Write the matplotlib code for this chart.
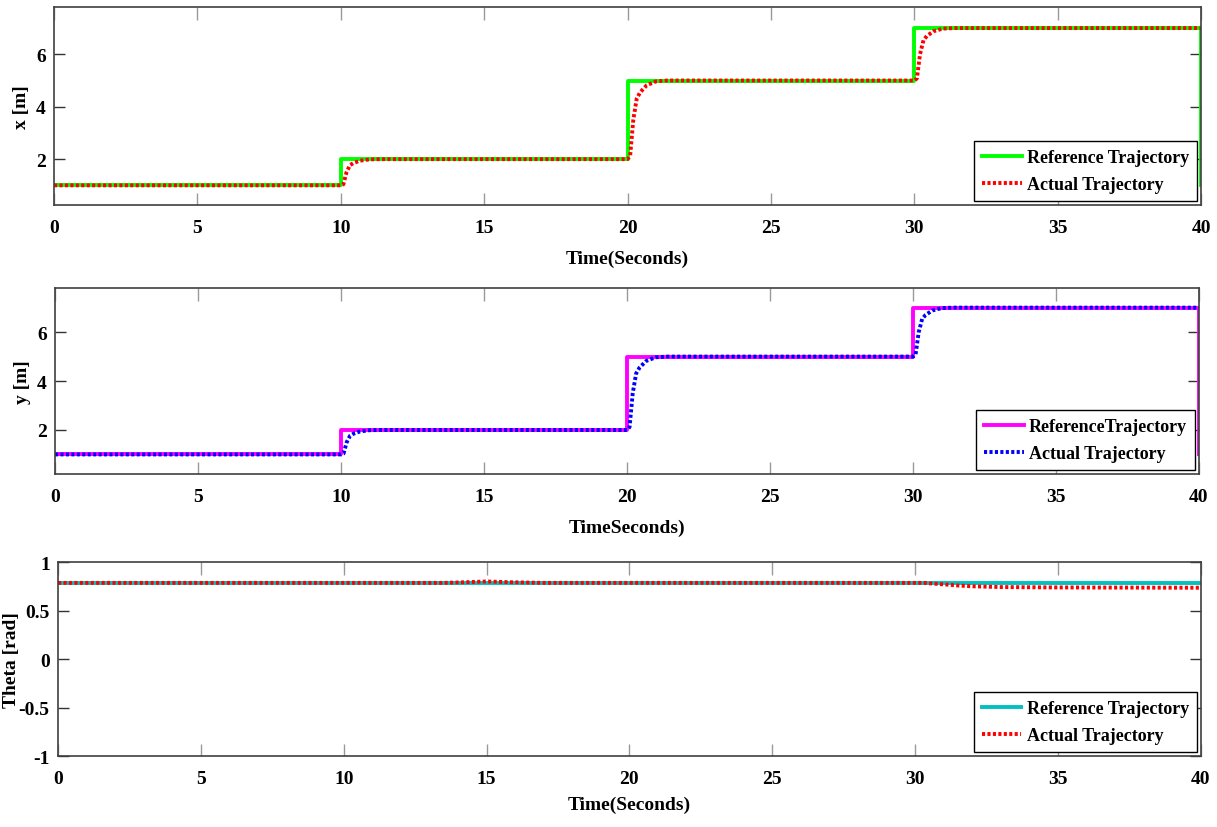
import numpy as np
import matplotlib
matplotlib.use('Agg')
import matplotlib.pyplot as plt

plt.rcParams['font.family'] = ['Liberation Serif', 'DejaVu Serif']
plt.rcParams['font.weight'] = 'bold'

# reference trajectories (piecewise constant, drop back to 1 at the last sample)
t_ref = [0, 10, 10, 20, 20, 30, 30, 40, 40]
x_ref = [1, 1, 2, 2, 5, 5, 7, 7, 1]
y_ref = [1, 1, 2, 2, 5, 5, 7, 7, 1]

# actual trajectories
t_act = [0, 10, 10.09, 10.2, 10.32, 10.44, 10.67, 11.0, 11.4,
         20, 20.09, 20.2, 20.32, 20.44, 20.67, 21.0, 21.4,
         30, 30.09, 30.2, 30.32, 30.44, 30.67, 31.0, 31.4, 40]
x_act = [1, 1, 1.04, 1.5, 1.77, 1.85, 1.94, 1.99, 2.0,
         2.0, 2.12, 3.5, 4.31, 4.55, 4.82, 4.97, 5.0,
         5.0, 5.08, 6.0, 6.54, 6.7, 6.88, 6.98, 7.0, 7.0]
y_act = [1, 1, 1.04, 1.5, 1.77, 1.85, 1.94, 1.99, 2.0,
         2.0, 2.12, 3.5, 4.31, 4.55, 4.82, 4.97, 5.0,
         5.0, 5.08, 6.0, 6.54, 6.7, 6.88, 6.98, 7.0, 7.0]

t_th_ref = [0, 40]
th_ref = [0.785, 0.785]
t_th_act = [0, 13.5, 14.3, 15.0, 15.8, 17.0, 30.3, 31.0, 31.5, 32.0, 33.0, 35.0, 40.0]
th_act = [0.785, 0.785, 0.792, 0.80, 0.792, 0.785, 0.785, 0.77, 0.758, 0.75, 0.742, 0.738, 0.735]

xticks = [0, 5, 10, 15, 20, 25, 30, 35, 40]

fig = plt.figure(figsize=(12.17, 8.28), dpi=100)
ax1 = fig.add_axes([0.0444, 0.7512, 0.9425, 0.239])
ax2 = fig.add_axes([0.0452, 0.4263, 0.940, 0.2246])
ax3 = fig.add_axes([0.0477, 0.0857, 0.939, 0.2343])

fs = 14
dots = (0, (0.8, 0.6))


def style(ax):
    ax.set_xlim(0, 40)
    ax.set_xticks(xticks)
    ax.tick_params(axis='x', direction='in', top=True, length=9, width=1,
                   color='#999999', pad=10, labelsize=fs)
    ax.tick_params(axis='y', direction='in', right=True, length=8, width=1,
                   color='#333333', pad=6, labelsize=fs)
    for s in ax.spines.values():
        s.set_color('#404040')
        s.set_linewidth(1.2)
    for lab in ax.get_xticklabels() + ax.get_yticklabels():
        lab.set_fontweight('bold')


def legend(ax):
    leg = ax.legend(loc='lower right', fontsize=fs - 1, fancybox=False, framealpha=1,
                    edgecolor='black', handlelength=2.2, borderpad=0.45,
                    labelspacing=0.55, handletextpad=0.3, borderaxespad=0.2)
    leg.get_frame().set_linewidth(1.0)
    for txt in leg.get_texts():
        txt.set_fontweight('bold')


# x
ax1.plot(t_ref, x_ref, color='#00ff00', lw=2.8, label='Reference Trajectory')
ax1.plot(t_act, x_act, color='#ff0000', lw=2.8, ls=dots, label='Actual Trajectory')
ax1.set_ylim(0.25, 7.8)
ax1.set_yticks([2, 4, 6])
style(ax1)
ax1.set_ylabel('x [m]', fontsize=fs, fontweight='bold')
ax1.yaxis.set_label_coords(-0.021, 0.5)
ax1.set_xlabel('Time(Seconds)', fontsize=fs, fontweight='bold', labelpad=10)
legend(ax1)

# y
ax2.plot(t_ref, y_ref, color='#ff00ff', lw=2.8, label='ReferenceTrajectory')
ax2.plot(t_act, y_act, color='#0000ff', lw=2.8, ls=dots, label='Actual Trajectory')
ax2.set_ylim(0.2, 7.8)
ax2.set_yticks([2, 4, 6])
style(ax2)
ax2.set_ylabel('y [m]', fontsize=fs, fontweight='bold')
ax2.yaxis.set_label_coords(-0.021, 0.5)
ax2.set_xlabel('TimeSeconds)', fontsize=fs, fontweight='bold', labelpad=10)
legend(ax2)

# theta
ax3.plot(t_th_ref, th_ref, color='#00c0c0', lw=2.8, label='Reference Trajectory')
ax3.plot(t_th_act, th_act, color='#ff0000', lw=2.8, ls=dots, label='Actual Trajectory')
ax3.set_ylim(-1, 1)
ax3.set_yticks([-1, -0.5, 0, 0.5, 1])
ax3.set_yticklabels(['-1', '-0.5', '0', '0.5', '1'])
style(ax3)
ax3.set_ylabel('Theta [rad]', fontsize=fs, fontweight='bold')
ax3.yaxis.set_label_coords(-0.033, 0.5)
ax3.set_xlabel('Time(Seconds)', fontsize=fs, fontweight='bold', labelpad=6)
legend(ax3)

fig.savefig('out.png', dpi=100)
